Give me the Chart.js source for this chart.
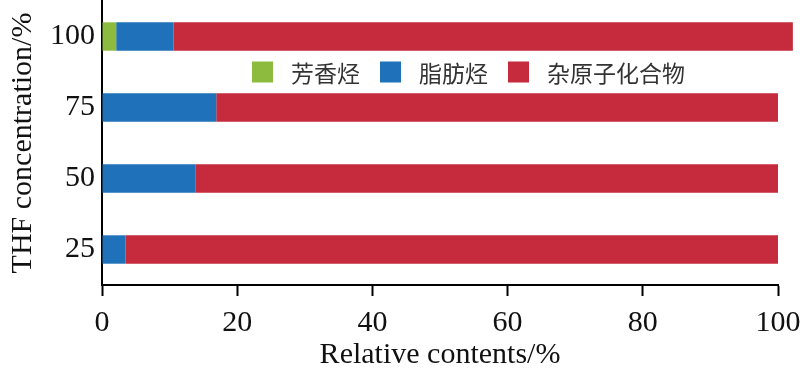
<!DOCTYPE html>
<html>
<head>
<meta charset="utf-8">
<script src="https://cdn.jsdelivr.net/npm/chart.js@4.4.1/dist/chart.umd.min.js"></script>
<style>
  html, body { margin: 0; padding: 0; background: #fff; }
  #wrap { width: 800px; height: 373px; }
</style>
</head>
<body>
<div id="wrap"><canvas id="thfChart"></canvas></div>
<script>
// THF concentration categories, top to bottom
const concentrations = ['100', '75', '50', '25'];
const seriesNames = ['芳香烃', '脂肪烃', '杂原子化合物'];
const seriesColors = ['#8dbb3e', '#1f72b9', '#c52b3c'];

// relative contents (%)
const aromatic = [2.1, 0, 0, 0];
const aliphatic = [8.5, 16.9, 13.8, 3.5];
const heteroatom = [91.6, 83.1, 86.2, 96.5];

const xTicks = [0, 20, 40, 60, 80, 100];

const serif = "'Liberation Serif', 'Times New Roman', serif";
const cjk = "'Noto Sans CJK SC', sans-serif";

// legend drawn inside the plot, between the first two bars
const innerLegend = {
    id: 'innerLegend',
    afterDraw(chart) {
        const ctx = chart.ctx;
        const area = chart.chartArea;
        const box = 21;
        let x = area.left + 150;
        const y = area.top + 71;
        ctx.save();
        ctx.font = '23px ' + cjk;
        ctx.textBaseline = 'middle';
        chart.data.datasets.forEach(ds => {
            ctx.fillStyle = ds.backgroundColor;
            ctx.fillRect(x, y - box / 2, box, box);
            x += box + 18;
            ctx.fillStyle = '#333';
            ctx.fillText(ds.label, x, y + 1);
            x += ctx.measureText(ds.label).width + 20;
        });
        ctx.restore();
    }
};

const ctx = document.getElementById('thfChart');
new Chart(ctx, {
    type: 'bar',
    data: {
        labels: concentrations,
        datasets: [
            { label: seriesNames[0], data: aromatic, backgroundColor: seriesColors[0] },
            { label: seriesNames[1], data: aliphatic, backgroundColor: seriesColors[1] },
            { label: seriesNames[2], data: heteroatom, backgroundColor: seriesColors[2] }
        ]
    },
    options: {
        indexAxis: 'y',
        responsive: true,
        maintainAspectRatio: false,
        animation: false,
        datasets: {
            bar: {
                clip: false,
                categoryPercentage: 1,
                barPercentage: 0.4,
                borderWidth: 0
            }
        },
        layout: { padding: { top: 1, right: 22, left: 0, bottom: 0 } },
        plugins: {
            legend: { display: false },
            tooltip: { enabled: false }
        },
        scales: {
            x: {
                stacked: true,
                min: 0,
                max: 100,
                afterFit: s => {
                    s.height = 88;
                    s.paddingLeft = 0;
                    s.paddingRight = 0;
                },
                afterBuildTicks: s => { s.ticks = xTicks.map(v => ({ value: v })); },
                grid: {
                    drawOnChartArea: false,
                    drawTicks: true,
                    tickLength: 11,
                    tickWidth: 2,
                    tickColor: '#000'
                },
                border: { display: true, color: '#000', width: 2 },
                ticks: {
                    color: '#111',
                    padding: 9,
                    maxRotation: 0,
                    font: { family: serif, size: 30 }
                },
                title: {
                    display: true,
                    text: 'Relative contents/%',
                    color: '#111',
                    padding: { top: 0, bottom: 0 },
                    font: { family: serif, size: 30 }
                }
            },
            y: {
                stacked: true,
                afterFit: s => {
                    s.width = 102;
                    s.paddingTop = 0;
                    s.paddingBottom = 0;
                },
                grid: { drawOnChartArea: false, drawTicks: false },
                border: { display: true, color: '#000', width: 2 },
                ticks: {
                    color: '#111',
                    padding: 7,
                    font: { family: serif, size: 30 }
                },
                title: {
                    display: true,
                    text: 'THF concentration/%',
                    color: '#111',
                    padding: { top: 5, bottom: 0 },
                    font: { family: serif, size: 30 }
                }
            }
        }
    },
    plugins: [innerLegend]
});
</script>
</body>
</html>
